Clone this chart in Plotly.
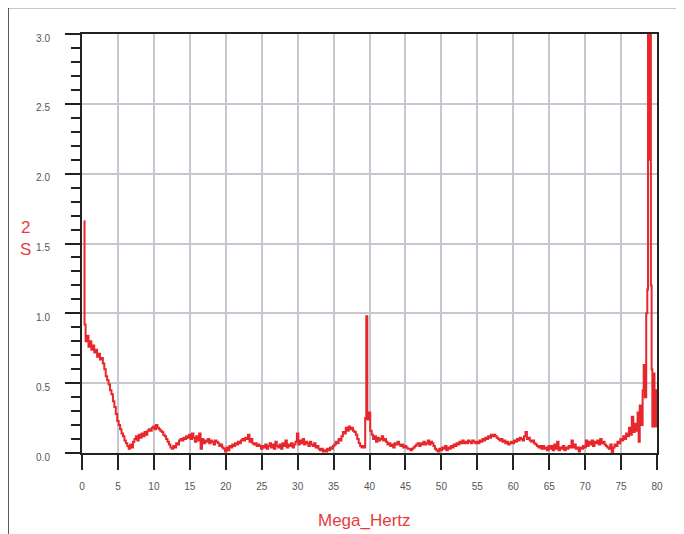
import plotly.graph_objects as go

freq = [0.25, 0.35, 0.5, 0.7, 0.9, 1.1, 1.3, 1.5, 1.7, 1.9, 2.1, 2.3, 2.5, 2.7, 2.9, 3.1, 3.3, 3.5, 3.7, 3.9,
        4.1, 4.3, 4.5, 4.7, 4.9, 5.1, 5.3, 5.5, 5.7, 5.9, 6.1, 6.3, 6.5, 6.7, 6.9, 7.1, 7.3, 7.5, 7.7, 7.9,
        8.1, 8.3, 8.5, 8.7, 8.9, 9.1, 9.3, 9.5, 9.7, 9.9, 10.1, 10.3, 10.5, 10.7, 10.9, 11.1, 11.3, 11.5, 11.7, 11.9,
        12.1, 12.3, 12.5, 12.7, 12.9, 13.1, 13.3, 13.5, 13.7, 13.9, 14.1, 14.3, 14.5, 14.7, 14.9, 15.1, 15.3, 15.5, 15.7, 15.9,
        16.1, 16.3, 16.5, 16.7, 16.9, 17.1, 17.3, 17.5, 17.7, 17.9, 18.1, 18.3, 18.5, 18.7, 18.9, 19.1, 19.3, 19.5, 19.7, 19.9,
        20.1, 20.3, 20.5, 20.7, 20.9, 21.1, 21.3, 21.5, 21.7, 21.9, 22.1, 22.3, 22.5, 22.7, 22.9, 23.1, 23.3, 23.5, 23.7, 23.9,
        24.1, 24.3, 24.5, 24.7, 24.9, 25.1, 25.3, 25.5, 25.7, 25.9, 26.1, 26.3, 26.5, 26.7, 26.9, 27.1, 27.3, 27.5, 27.7, 27.9,
        28.1, 28.3, 28.5, 28.7, 28.9, 29.1, 29.3, 29.5, 29.7, 29.9, 30.1, 30.3, 30.5, 30.7, 30.9, 31.1, 31.3, 31.5, 31.7, 31.9,
        32.1, 32.3, 32.5, 32.7, 32.9, 33.1, 33.3, 33.5, 33.7, 33.9, 34.1, 34.3, 34.5, 34.7, 34.9, 35.1, 35.3, 35.5, 35.7, 35.9,
        36.1, 36.3, 36.5, 36.7, 36.9, 37.1, 37.3, 37.5, 37.7, 37.9, 38.1, 38.3, 38.5, 38.7, 38.9, 39.1, 39.3, 39.4, 39.55, 39.7,
        39.9, 40.1, 40.3, 40.5, 40.7, 40.9, 41.1, 41.3, 41.5, 41.7, 41.9, 42.1, 42.3, 42.5, 42.7, 42.9, 43.1, 43.3, 43.5, 43.7,
        43.9, 44.1, 44.3, 44.5, 44.7, 44.9, 45.1, 45.3, 45.5, 45.7, 45.9, 46.1, 46.3, 46.5, 46.7, 46.9, 47.1, 47.3, 47.5, 47.7,
        47.9, 48.1, 48.3, 48.5, 48.7, 48.9, 49.1, 49.3, 49.5, 49.7, 49.9, 50.1, 50.3, 50.5, 50.7, 50.9, 51.1, 51.3, 51.5, 51.7,
        51.9, 52.1, 52.3, 52.5, 52.7, 52.9, 53.1, 53.3, 53.5, 53.7, 53.9, 54.1, 54.3, 54.5, 54.7, 54.9, 55.1, 55.3, 55.5, 55.7,
        55.9, 56.1, 56.3, 56.5, 56.7, 56.9, 57.1, 57.3, 57.5, 57.7, 57.9, 58.1, 58.3, 58.5, 58.7, 58.9, 59.1, 59.3, 59.5, 59.7,
        59.9, 60.1, 60.3, 60.5, 60.7, 60.9, 61.1, 61.3, 61.5, 61.7, 61.9, 62.1, 62.3, 62.5, 62.7, 62.9, 63.1, 63.3, 63.5, 63.7,
        63.9, 64.1, 64.3, 64.5, 64.7, 64.9, 65.1, 65.3, 65.5, 65.7, 65.9, 66.1, 66.3, 66.5, 66.7, 66.9, 67.1, 67.3, 67.5, 67.7,
        67.9, 68.1, 68.3, 68.5, 68.7, 68.9, 69.1, 69.3, 69.5, 69.7, 69.9, 70.1, 70.3, 70.5, 70.7, 70.9, 71.1, 71.3, 71.5, 71.7,
        71.9, 72.1, 72.3, 72.5, 72.7, 72.9, 73.1, 73.3, 73.5, 73.7, 73.9, 74.1, 74.3, 74.5, 74.7, 74.9, 75.1, 75.3, 75.5, 75.7,
        75.9, 76.1, 76.3, 76.5, 76.7, 76.9, 77.1, 77.3, 77.45, 77.6, 77.8, 78.0, 78.15, 78.3, 78.5, 78.65, 78.75, 78.85, 78.95, 79.05,
        79.15, 79.25, 79.35, 79.5, 79.65, 79.8, 79.95, 80.0]

s2 = [1.66, 0.92, 0.80, 0.84, 0.76, 0.80, 0.74, 0.77, 0.72, 0.74, 0.69, 0.71, 0.67, 0.68, 0.64, 0.60, 0.55, 0.52, 0.49, 0.45,
      0.42, 0.37, 0.33, 0.28, 0.23, 0.20, 0.17, 0.14, 0.12, 0.09, 0.07, 0.05, 0.03, 0.06, 0.04, 0.08, 0.10, 0.12, 0.09, 0.13,
      0.11, 0.14, 0.12, 0.15, 0.13, 0.16, 0.17, 0.16, 0.18, 0.19, 0.17, 0.20, 0.18, 0.17, 0.16, 0.15, 0.13, 0.12, 0.10, 0.08,
      0.06, 0.04, 0.03, 0.05, 0.04, 0.07, 0.06, 0.09, 0.10, 0.09, 0.11, 0.10, 0.12, 0.11, 0.13, 0.10, 0.14, 0.11, 0.08, 0.12,
      0.09, 0.14, 0.03, 0.10, 0.07, 0.09, 0.08, 0.10, 0.07, 0.09, 0.08, 0.06, 0.09, 0.08, 0.07, 0.05, 0.06, 0.04, 0.03, 0.01,
      0.04, 0.02, 0.05, 0.04, 0.06, 0.05, 0.07, 0.06, 0.08, 0.07, 0.09, 0.10, 0.09, 0.11, 0.10, 0.13, 0.08, 0.10, 0.07, 0.06,
      0.07, 0.05, 0.06, 0.05, 0.03, 0.05, 0.04, 0.06, 0.03, 0.05, 0.07, 0.04, 0.06, 0.03, 0.08, 0.05, 0.04, 0.06, 0.03, 0.07,
      0.05, 0.09, 0.04, 0.06, 0.05, 0.07, 0.04, 0.06, 0.08, 0.14, 0.06, 0.09, 0.07, 0.10, 0.06, 0.08, 0.07, 0.05, 0.08, 0.06,
      0.05, 0.07, 0.04, 0.05, 0.03, 0.02, 0.03, 0.01, 0.02, 0.01, 0.03, 0.02, 0.04, 0.03, 0.05, 0.06, 0.08, 0.07, 0.10, 0.09,
      0.12, 0.15, 0.14, 0.18, 0.16, 0.19, 0.17, 0.18, 0.16, 0.15, 0.13, 0.10, 0.07, 0.05, 0.04, 0.05, 0.04, 0.25, 0.98, 0.24,
      0.29, 0.16, 0.13, 0.10, 0.12, 0.08, 0.11, 0.09, 0.10, 0.12, 0.09, 0.10, 0.08, 0.06, 0.07, 0.05, 0.06, 0.04, 0.07, 0.06,
      0.08, 0.06, 0.05, 0.06, 0.04, 0.05, 0.04, 0.03, 0.03, 0.02, 0.03, 0.04, 0.05, 0.06, 0.07, 0.05, 0.07, 0.06, 0.08, 0.06,
      0.07, 0.09, 0.06, 0.08, 0.07, 0.05, 0.03, 0.02, 0.01, 0.03, 0.02, 0.04, 0.03, 0.05, 0.02, 0.04, 0.03, 0.05, 0.04, 0.06,
      0.05, 0.07, 0.06, 0.08, 0.07, 0.09, 0.07, 0.08, 0.07, 0.09, 0.08, 0.07, 0.09, 0.08, 0.07, 0.08, 0.07, 0.09, 0.08, 0.10,
      0.09, 0.11, 0.10, 0.12, 0.11, 0.13, 0.12, 0.13, 0.12, 0.11, 0.10, 0.09, 0.10, 0.08, 0.09, 0.07, 0.08, 0.06, 0.07, 0.08,
      0.07, 0.09, 0.08, 0.10, 0.09, 0.11, 0.10, 0.09, 0.12, 0.15, 0.10, 0.11, 0.09, 0.08, 0.09, 0.07, 0.06, 0.05, 0.04, 0.05,
      0.03, 0.05, 0.03, 0.04, 0.02, 0.05, 0.03, 0.05, 0.02, 0.06, 0.03, 0.08, 0.02, 0.04, 0.03, 0.05, 0.02, 0.04, 0.03, 0.05,
      0.04, 0.09, 0.04, 0.06, 0.03, 0.04, 0.01, 0.04, 0.03, 0.05, 0.04, 0.09, 0.05, 0.08, 0.06, 0.09, 0.05, 0.08, 0.07, 0.09,
      0.06, 0.10, 0.07, 0.08, 0.06, 0.05, 0.04, 0.03, 0.06, 0.00, 0.04, 0.06, 0.05, 0.08, 0.07, 0.10, 0.09, 0.12, 0.10, 0.14,
      0.12, 0.18, 0.13, 0.26, 0.15, 0.21, 0.16, 0.29, 0.08, 0.34, 0.20, 0.45, 0.63, 0.40, 1.00, 1.17, 3.30, 2.10, 3.30, 3.30,
      1.20, 0.60, 0.19, 0.57, 0.19, 0.45, 0.19, 0.30]

x_ticks = [0, 5, 10, 15, 20, 25, 30, 35, 40, 45, 50, 55, 60, 65, 70, 75, 80]
y_ticks = [0.0, 0.5, 1.0, 1.5, 2.0, 2.5, 3.0]

RED = "#e8272d"
TXT_RED = "#e83a3f"
FONT = "Liberation Sans"

fig = go.Figure()
fig.add_trace(go.Scatter(x=freq, y=s2, mode="lines", line=dict(color=RED, width=2, shape="hv"),
                         showlegend=False, hoverinfo="skip"))

fig.update_layout(
    width=684, height=534,
    margin=dict(l=74, r=35, t=25.5, b=88.5),
    paper_bgcolor="white", plot_bgcolor="white",
    font=dict(family=FONT),
    xaxis=dict(range=[0, 80], tickvals=x_ticks, ticktext=[str(v) for v in x_ticks],
               showgrid=True, gridcolor="#c5c9cf", gridwidth=2,
               showline=True, linecolor="#222", linewidth=2, mirror=True,
               ticks="outside", ticklen=15, tickwidth=2, tickcolor="#222",
               tickfont=dict(size=10, color="#555", family=FONT), ticklabelstandoff=8,
               zeroline=False),
    yaxis=dict(range=[0, 3.0], tickvals=y_ticks, ticktext=["%.1f" % v for v in y_ticks],
               showgrid=True, gridcolor="#c5c9cf", gridwidth=2,
               showline=True, linecolor="#222", linewidth=2, mirror=True,
               ticks="outside", ticklen=15, tickwidth=2, tickcolor="#222",
               tickfont=dict(size=10, color="#555", family=FONT), ticklabelstandoff=13,
               ticklabelshift=4,
               minor=dict(dtick=0.1, ticks="outside", ticklen=9, tickwidth=2, tickcolor="#222", showgrid=False),
               zeroline=False),
    annotations=[
        dict(text="2<br>S", xref="paper", yref="paper", x=-0.099, y=0.513, showarrow=False,
             font=dict(size=17, color=TXT_RED, family=FONT), xanchor="center", yanchor="middle", align="center"),
        dict(text="Mega_Hertz", xref="paper", yref="paper", x=0.492, y=-0.161, showarrow=False,
             font=dict(size=17, color=TXT_RED, family=FONT), xanchor="center", yanchor="middle"),
    ],
    shapes=[
        dict(type="line", xref="paper", yref="paper", x0=-0.1287, x1=1.1, y0=1.063, y1=1.063,
             line=dict(color="#222", width=1.5)),
        dict(type="line", xref="paper", yref="paper", x0=-0.1287, x1=-0.1287, y0=-0.25, y1=1.063,
             line=dict(color="#222", width=1.5)),
    ],
)

fig.write_html("out.html")
